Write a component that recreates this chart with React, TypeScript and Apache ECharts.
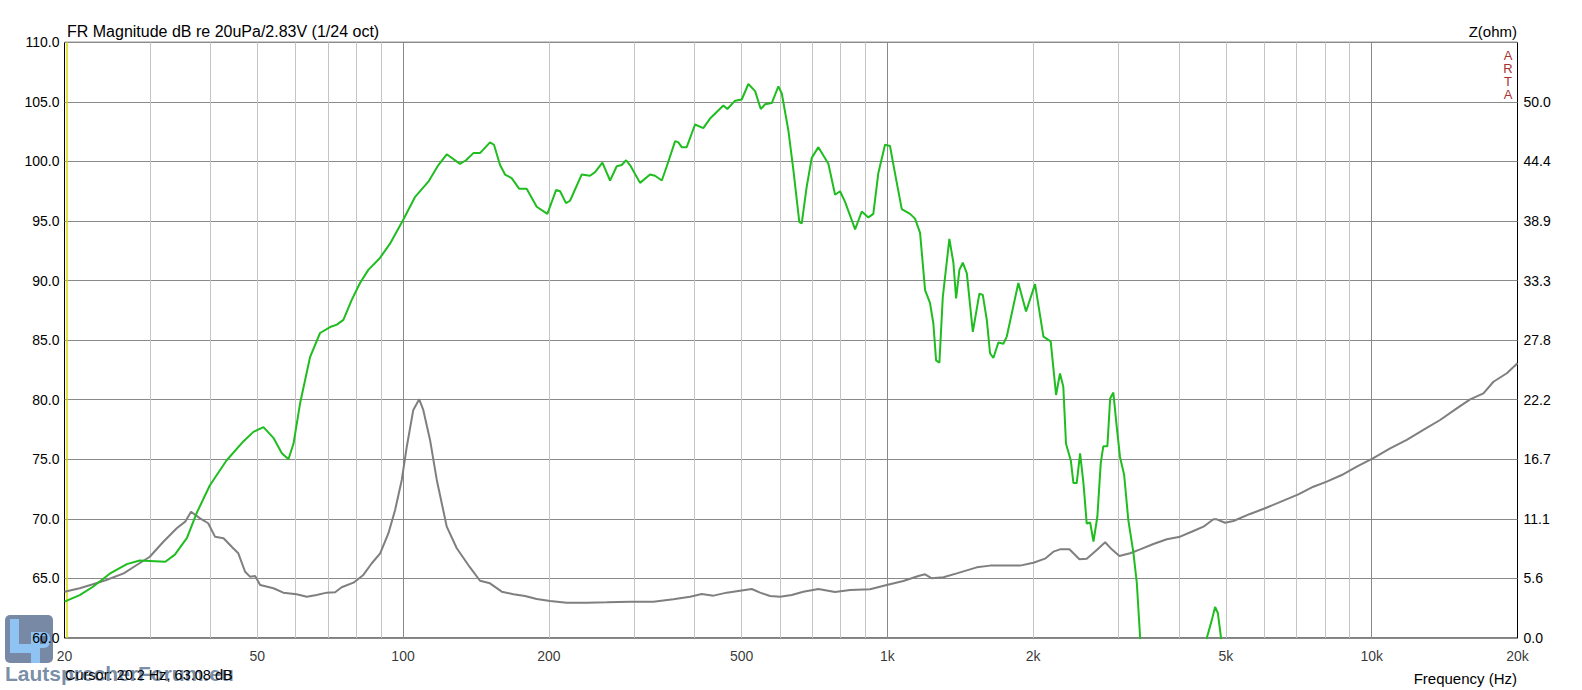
import React, { useEffect, useRef } from 'react';
import * as echarts from 'echarts';

// SPL curve, [frequency Hz, dB re 20uPa/2.83V]
const splCurve: [number, number][] = [
  [20.0, 63.05], [21.5, 63.6], [22.9, 64.3], [24.8, 65.4], [26.9, 66.2], [28.6, 66.5], [32.3, 66.4],
  [33.8, 67.0], [35.8, 68.4], [37.5, 70.5], [39.9, 72.8], [43.2, 74.9], [46.8, 76.5], [49.1, 77.3],
  [51.5, 77.7], [54.0, 76.8], [56.2, 75.5], [58.0, 75.0], [59.4, 76.3], [61.3, 79.7], [64.3, 83.6],
  [67.4, 85.6], [70.7, 86.1], [73.0, 86.3], [75.3, 86.7], [78.4, 88.4], [81.5, 89.8], [84.8, 90.9],
  [89.6, 91.9], [94.0, 93.1], [100.1, 95.1], [105.8, 97.0], [112.8, 98.3], [118.3, 99.7], [123.1, 100.6],
  [131.1, 99.8], [134.9, 100.1], [139.7, 100.7], [144.2, 100.7], [151.2, 101.6], [154.1, 101.4],
  [158.6, 99.7], [162.4, 98.9], [167.6, 98.6], [173.8, 97.7], [180.0, 97.7], [188.8, 96.2], [198.6, 95.6],
  [207.0, 97.6], [211.0, 97.5], [217.0, 96.5], [221.2, 96.7], [233.8, 98.9], [243.2, 98.8], [249.2, 99.1],
  [258.0, 99.9], [267.6, 98.4], [276.2, 99.6], [282.8, 99.7], [288.8, 100.1], [295.2, 99.6], [308.6, 98.2],
  [323.6, 98.9], [331.4, 98.8], [342.2, 98.4], [350.4, 99.6], [364.6, 101.7], [370.2, 101.6], [376.2, 101.2],
  [385.2, 101.2], [400.8, 103.1], [416.8, 102.8], [430.4, 103.6], [458.6, 104.7], [467.4, 104.4],
  [484.8, 105.1], [500.4, 105.2], [516.4, 106.5], [533.2, 105.9], [547.8, 104.4], [559.2, 104.8],
  [577.2, 104.9], [595.6, 106.3], [605.4, 105.7], [624.6, 102.6], [639.6, 99.3], [658.0, 94.9],
  [665.6, 94.8], [681.6, 97.9], [698.0, 100.3], [720.4, 101.2], [755.4, 99.8], [779.8, 97.2], [798.6, 97.5],
  [817.8, 96.6], [857.8, 94.3], [885.4, 95.8], [913.6, 95.3], [935.4, 95.6], [957.8, 99.0], [989.0, 101.4],
  [1012.6, 101.3], [1037, 99.0], [1070.8, 96.0], [1113.8, 95.6], [1140.6, 95.2], [1168.2, 94.0],
  [1196.4, 89.2], [1225, 88.1], [1244.4, 86.4], [1260.6, 83.3], [1280.6, 83.1], [1301.4, 88.6],
  [1342.8, 93.5], [1368.8, 91.5], [1386.6, 88.5], [1408.4, 90.9], [1431.4, 91.5], [1459, 90.6],
  [1501.2, 85.7], [1548.8, 88.9], [1574, 88.8], [1604.4, 86.7], [1629.4, 83.9], [1655.2, 83.5],
  [1695, 84.8], [1735.6, 84.7], [1764.2, 85.3], [1864, 89.8], [1933.4, 87.4], [2018, 89.7], [2100, 85.3],
  [2174, 84.9], [2230, 80.4], [2272, 82.2], [2308, 81.1], [2338, 76.3], [2392, 74.9], [2422, 73.0],
  [2460, 73.0], [2500, 75.5], [2540, 73.0], [2580, 69.6], [2622, 69.7], [2664, 68.1], [2714, 70.2],
  [2758, 74.7], [2792, 76.1], [2846, 76.1], [2884, 80.1], [2928, 80.6], [2976, 77.7], [3022, 75.2],
  [3082, 73.7], [3144, 69.9], [3220, 67.2], [3274, 64.6], [3326, 60.0], [3420, 52.0], [4480, 52.0],
  [4566, 60.0], [4676, 61.5], [4750, 62.6], [4812, 62.1], [4886, 60.0], [4980, 52.0],
];

// impedance curve, [frequency Hz, ohm]
const impedanceCurve: [number, number][] = [
  [20.0, 4.32], [21.5, 4.64], [22.9, 5.01], [24.4, 5.41], [26.5, 6.03], [28.2, 6.81], [30.0, 7.58],
  [32.0, 8.98], [34.1, 10.23], [35.5, 10.85], [36.5, 11.78], [38.1, 11.16], [39.6, 10.7], [40.9, 9.45],
  [42.6, 9.3], [44.6, 8.37], [45.7, 7.9], [47.2, 6.18], [48.3, 5.72], [49.5, 5.78], [50.7, 4.94],
  [54.0, 4.64], [56.6, 4.23], [60.3, 4.08], [63.3, 3.85], [66.3, 4.01], [69.6, 4.23], [72.4, 4.26],
  [74.7, 4.73], [79.0, 5.16], [82.8, 5.88], [86.2, 6.97], [89.7, 7.9], [93.3, 9.77], [96.3, 11.94],
  [99.4, 14.74], [101.8, 17.84], [105.0, 21.27], [108.0, 22.26], [110.1, 21.27], [113.7, 18.47],
  [117.4, 14.74], [123.1, 10.38], [129.1, 8.37], [137.5, 6.58], [144.2, 5.34], [151.2, 5.1], [159.9, 4.32],
  [169.0, 4.08], [178.6, 3.92], [188.8, 3.64], [201.2, 3.45], [217.8, 3.29], [239.6, 3.29], [263.4, 3.33],
  [294.4, 3.39], [328.8, 3.39], [361.4, 3.61], [391.4, 3.85], [413.8, 4.1], [437.4, 3.95], [466.0, 4.23],
  [496.4, 4.41], [524.8, 4.57], [546.0, 4.23], [572.4, 3.92], [600.4, 3.85], [634.6, 4.01], [670.6, 4.32],
  [720.4, 4.57], [779.8, 4.29], [837.6, 4.48], [921.0, 4.54], [997.0, 4.94], [1079, 5.32], [1158.8, 5.78],
  [1196.4, 5.94], [1235, 5.57], [1305.2, 5.66], [1391, 6.03], [1529.4, 6.59], [1629.4, 6.75], [1879, 6.75],
  [2002, 7.02], [2116, 7.4], [2202, 8.05], [2272, 8.27], [2376, 8.27], [2422, 7.9], [2492, 7.34],
  [2580, 7.4], [2706, 8.21], [2816, 8.93], [2906, 8.27], [3014, 7.65], [3170, 7.9], [3326, 8.27],
  [3542, 8.77], [3776, 9.21], [4022, 9.45], [4284, 9.98], [4494, 10.38], [4712, 11.07], [4788, 11.07],
  [4980, 10.75], [5182, 10.91], [5608, 11.57], [6024, 12.1], [6572, 12.81], [7056, 13.4], [7578, 14.11],
  [8076, 14.58], [8672, 15.2], [9314, 15.98], [10056, 16.76], [10916, 17.69], [11814, 18.47],
  [12784, 19.4], [13842, 20.33], [14986, 21.42], [15966, 22.26], [17010, 22.82], [17838, 23.9],
  [19010, 24.69], [20000, 25.62],
];

const freqTicks = [20, 50, 100, 200, 500, 1000, 2000, 5000, 10000, 20000];
const freqTickLabels = ['20', '50', '100', '200', '500', '1k', '2k', '5k', '10k', '20k'];
const minorGridHz = [30, 40, 50, 60, 70, 80, 90, 200, 300, 400, 500, 600, 700, 800, 900,
  2000, 3000, 4000, 5000, 6000, 7000, 8000, 9000];
const decadeGridHz = [100, 1000, 10000];
const cursorHz = 20.2;

const titleText = 'FR Magnitude dB re 20uPa/2.83V (1/24 oct)';
const cursorText = 'Cursor: 20.2 Hz, 63.08 dB';
const ohmMax = 500 / 9;
const ohmStep = 50 / 9;

const FONT = '"Liberation Sans", Arial, sans-serif';

const App: React.FC = () => {
  const chartRef = useRef<HTMLDivElement>(null);

  useEffect(() => {
    if (!chartRef.current) return;
    const chart = echarts.init(chartRef.current, undefined, { renderer: 'svg' });

    const gridLines = [
      ...minorGridHz.map(f => ({ xAxis: f, lineStyle: { color: '#c4c4c4', width: 1, type: 'solid' } })),
      ...decadeGridHz.map(f => ({ xAxis: f, lineStyle: { color: '#8a8a8a', width: 1, type: 'solid' } })),
      { xAxis: cursorHz, lineStyle: { color: '#d8d800', width: 1.5, type: 'solid' } },
    ];

    const option = {
      animation: false,
      backgroundColor: '#fff',
      textStyle: { fontFamily: FONT },
      grid: {
        left: 64.5, right: 64.5, top: 42.3, bottom: 52,
        show: true, borderColor: '#000', borderWidth: 1, backgroundColor: '#fff',
      },
      xAxis: {
        type: 'log',
        logBase: 10,
        min: 20,
        max: 20000,
        axisLine: { show: false },
        axisTick: { show: false },
        axisLabel: { show: false },
        splitLine: { show: false },
      },
      yAxis: [
        {
          type: 'value',
          min: 60,
          max: 110,
          interval: 5,
          axisLine: { show: false },
          axisTick: { show: false },
          axisLabel: {
            fontSize: 14, color: '#000', fontFamily: FONT, margin: 5,
            formatter: (v: number) => v.toFixed(1),
          },
          splitLine: { lineStyle: { color: '#8a8a8a', width: 1 } },
        },
        {
          type: 'value',
          min: 0,
          max: ohmMax,
          interval: ohmStep,
          position: 'right',
          axisLine: { show: false },
          axisTick: { show: false },
          axisLabel: {
            fontSize: 14, color: '#000', fontFamily: FONT, margin: 6,
            formatter: (v: number) => (v > 55 ? '' : v.toFixed(1)),
          },
          splitLine: { show: false },
        },
      ],
      series: [
        {
          type: 'line',
          name: 'grid',
          data: [[1000, 60]],
          showSymbol: false,
          lineStyle: { width: 0 },
          silent: true,
          markLine: {
            silent: true,
            z: 1,
            symbol: ['none', 'none'],
            label: { show: false },
            emphasis: { disabled: true },
            data: gridLines,
          },
        },
        {
          type: 'line',
          name: 'Z',
          yAxisIndex: 1,
          data: impedanceCurve,
          showSymbol: false,
          silent: true,
          z: 3,
          lineStyle: { color: '#7f7f7f', width: 2 },
        },
        {
          type: 'line',
          name: 'SPL',
          yAxisIndex: 0,
          data: splCurve,
          showSymbol: false,
          silent: true,
          clip: true,
          z: 4,
          lineStyle: { color: '#1fbd1f', width: 2 },
        },
        {
          type: 'scatter',
          name: 'freqLabels',
          data: freqTicks.map(f => [f, 60]),
          symbolSize: 0,
          itemStyle: { color: 'transparent' },
          clip: false,
          silent: true,
          z: 5,
          label: {
            show: true,
            position: 'bottom',
            distance: 11,
            fontSize: 14,
            color: '#000',
            fontFamily: FONT,
            formatter: (p: any) => freqTickLabels[p.dataIndex],
          },
        },
      ],
      graphic: [
        {
          type: 'text', x: 67, y: 31, z: 10,
          style: { text: titleText, fill: '#000', font: `16px ${FONT}`, verticalAlign: 'middle' },
        },
        {
          type: 'text', x: 1517, y: 31, z: 10,
          style: { text: 'Z(ohm)', fill: '#000', font: `15px ${FONT}`, align: 'right', verticalAlign: 'middle' },
        },
        {
          type: 'text', x: 1508, y: 49, z: 10,
          style: {
            text: 'A\nR\nT\nA', fill: '#a83232', font: `13px ${FONT}`,
            lineHeight: 13, align: 'center', verticalAlign: 'top',
          },
        },
        {
          type: 'text', x: 1517, y: 678, z: 10,
          style: { text: 'Frequency (Hz)', fill: '#000', font: `15px ${FONT}`, align: 'right', verticalAlign: 'middle' },
        },
        {
          type: 'text', x: 65, y: 675, z: 10,
          style: { text: cursorText, fill: '#000', font: `14.5px ${FONT}`, verticalAlign: 'middle' },
        },
        {
          type: 'group', z: 20,
          children: [
            { type: 'rect', shape: { x: 5, y: 615, width: 48, height: 48, r: 5 }, style: { fill: '#65799a', opacity: 0.88 } },
            { type: 'rect', shape: { x: 10, y: 619, width: 9, height: 34 }, style: { fill: '#8ec3f3' } },
            { type: 'rect', shape: { x: 10, y: 644, width: 22, height: 9 }, style: { fill: '#8ec3f3' } },
            { type: 'rect', shape: { x: 31, y: 632, width: 9, height: 31 }, style: { fill: '#8ec3f3' } },
            { type: 'rect', shape: { x: 31, y: 632, width: 19, height: 16, r: [0, 6, 6, 0] }, style: { fill: '#8ec3f3' } },
            { type: 'rect', shape: { x: 40, y: 636, width: 6, height: 8 }, style: { fill: '#65799a' } },
            {
              type: 'text', x: 5, y: 673,
              style: {
                text: 'LautsprecherForum.eu', fill: '#6a7f9c', opacity: 0.9,
                font: `bold 21px ${FONT}`, verticalAlign: 'middle',
              },
            },
          ],
        },
      ],
    };

    chart.setOption(option as any);

    return () => {
      chart.dispose();
    };
  }, []);

  return (
    <div
      ref={chartRef}
      style={{ position: 'absolute', left: 0, top: 0, width: '1582px', height: '690px' }}
    />
  );
};

export default App;
